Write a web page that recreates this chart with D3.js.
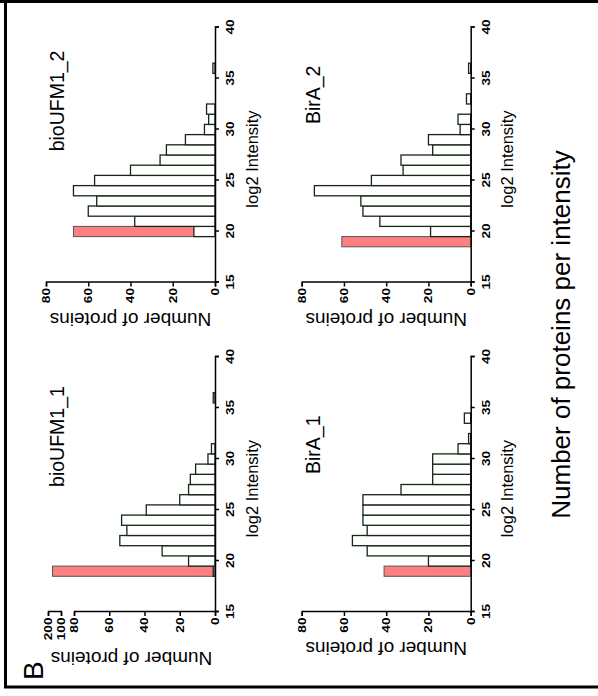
<!DOCTYPE html>
<html>
<head>
<meta charset="utf-8">
<script src="https://cdn.jsdelivr.net/npm/d3@7"></script>
<style>
  body { margin: 0; background: #fff; }
  text { font-family: "Liberation Sans", Arial, Helvetica, sans-serif; }
</style>
</head>
<body>
<script>
// dimensions de la figure (image finale)
var W = 598, H = 696

// données : intervalles log2 (centres) et nombre de protéines
const bins = [19, 20, 21, 22, 23, 24, 25, 26, 27, 28, 29, 30, 31, 32, 33, 34, 35, 36, 37];
const bioUFM1_1 = [1, 15, 30, 54, 50, 53, 39, 20, 15, 14, 11, 4, 2, 0, 0, 0, 0, 1, 0];
const bioUFM1_2 = [0, 10, 38, 60, 56, 67, 57, 40, 26, 23, 14, 5, 3, 4, 0, 0, 0, 1, 0];
const birA_1 = [0, 20, 49, 56, 49, 51, 51, 51, 33, 18, 18, 18, 6, 1, 0, 3, 0, 0, 0];
const birA_2 = [0, 19, 43, 51, 52, 74, 47, 32, 33, 18, 20, 5, 6, 0, 2, 0, 0, 1, 0];
// barre rose (valeurs imputées) : intervalle et hauteur
const pinkBins = [19, 20, 19, 19];
const pinkValues = [165, 67, 41, 61];
const titles = ["bioUFM1_1", "bioUFM1_2", "BirA_1", "BirA_2"];
const xTicks = [15, 20, 25, 30, 35, 40];
const yTicks = [0, 20, 40, 60, 80];
const yTicksHigh = [100, 200];

// mise en page des panneaux dans le repère non tourné (696 x 598)
var panels = [
  { name: titles[0], counts: bioUFM1_1, pb: pinkBins[0], pv: pinkValues[0], u0: 84, v0: 215, broken: true, tx: 32.2, lab: -40 },
  { name: titles[1], counts: bioUFM1_2, pb: pinkBins[1], pv: pinkValues[1], u0: 413.5, v0: 215, broken: false, tx: 32.8, lab: -30 },
  { name: titles[2], counts: birA_1, pb: pinkBins[2], pv: pinkValues[2], u0: 84, v0: 470.7, broken: false, tx: 31.4, lab: -30 },
  { name: titles[3], counts: birA_2, pb: pinkBins[3], pv: pinkValues[3], u0: 413.5, v0: 470.7, broken: false, tx: 33.4, lab: -30 }
]

var svg = d3.select("body").append("svg")
  .attr("width", W)
  .attr("height", H);

// cadre
svg.append("line").attr("x1", 0).attr("x2", W).attr("y1", 1.5).attr("y2", 1.5)
  .attr("stroke", "#000").attr("stroke-width", 3);
svg.append("line").attr("x1", 5.5).attr("x2", 5.5).attr("y1", 0).attr("y2", 688)
  .attr("stroke", "#000").attr("stroke-width", 3);
svg.append("line").attr("x1", 4).attr("x2", W).attr("y1", 687).attr("y2", 687)
  .attr("stroke", "#000").attr("stroke-width", 3);

// toute la figure est tournée de -90°
var fig = svg.append("g").attr("transform", "translate(0," + H + ") rotate(-90)");

fig.append("text")
  .attr("x", 16).attr("y", 43.3)
  .style("font-size", "28px")
  .text("B");

fig.append("text")
  .attr("x", 361.5).attr("y", 570)
  .attr("text-anchor", "middle")
  .style("font-size", "26px")
  .text("Number of proteins per intensity");

function tickStyle(sel) {
  sel.style("font-size", "10.5px").style("font-weight", "bold").attr("fill", "#000");
}

panels.forEach(function(p) {
  var g = fig.append("g");
  var x = d3.scaleLinear().domain([15, 40]).range([p.u0, p.u0 + 255]);
  var y, yLow, yHigh;
  if (p.broken) {
    y = d3.scaleLinear().domain([0, 80, 100, 200]).range([p.v0, p.v0 - 141, p.v0 - 154, p.v0 - 167]);
    yLow = d3.scaleLinear().domain([0, 80]).range([p.v0, p.v0 - 141]);
    yHigh = d3.scaleLinear().domain([100, 200]).range([p.v0 - 154, p.v0 - 167]);
  } else {
    y = d3.scaleLinear().domain([0, 80]).range([p.v0, p.v0 - 169]);
    yLow = y;
  }

  // barre rose d'abord, les barres blanches par-dessus
  g.append("rect")
    .attr("x", x(p.pb - 0.5))
    .attr("width", x(p.pb + 0.5) - x(p.pb - 0.5))
    .attr("y", y(p.pv))
    .attr("height", y(0) - y(p.pv))
    .attr("fill", "#ff8080")
    .attr("stroke", "#555")
    .attr("stroke-width", 1);

  g.selectAll(".bar")
    .data(bins.map(function(b, i) { return { b: b, c: p.counts[i] }; })
      .filter(function(d) { return !(d.b === p.pb && d.c === 0); }))
    .enter().append("rect")
    .attr("class", "bar")
    .attr("x", function(d) { return x(d.b - 0.5); })
    .attr("width", function(d) { return x(d.b + 0.5) - x(d.b - 0.5); })
    .attr("y", function(d) { return y(d.c); })
    .attr("height", function(d) { return y(0) - y(d.c); })
    .attr("fill", "#fff")
    .attr("stroke", "#142814")
    .attr("stroke-width", 1.3);

  // axe des intensités (log2)
  var ax = g.append("g")
    .attr("transform", "translate(0," + p.v0 + ")")
    .call(d3.axisBottom(x).tickValues(xTicks).tickSize(4).tickPadding(8));
  ax.selectAll("text")
    .attr("transform", "scale(1.3,1)")
    .attr("x", 0)
    .call(tickStyle);

  // axe des comptes (coupé pour bioUFM1_1)
  var ay = g.append("g")
    .attr("transform", "translate(" + p.u0 + ",0)")
    .call(d3.axisLeft(yLow).tickValues(yTicks).tickSize(4).tickPadding(2));
  ay.selectAll("text")
    .attr("transform", "scale(1.3,1)")
    .attr("x", -5.5 / 1.3)
    .call(tickStyle);
  if (p.broken) {
    var ay2 = g.append("g")
      .attr("transform", "translate(" + p.u0 + ",0)")
      .call(d3.axisLeft(yHigh).tickValues(yTicksHigh).tickSize(4).tickPadding(2));
    ay2.selectAll("text")
      .attr("transform", "scale(1.3,1)")
      .attr("x", -5.5 / 1.3)
      .call(tickStyle);
  }

  g.selectAll(".domain, .tick line").attr("stroke", "#000").attr("stroke-width", 1.5);

  // titres
  g.append("text")
    .attr("x", x(p.tx)).attr("y", p.v0 - 151)
    .attr("text-anchor", "middle")
    .style("font-size", "19.5px")
    .text(p.name);

  g.append("text")
    .attr("x", (x(15) + x(40)) / 2 - 4).attr("y", p.v0 + 42.5)
    .attr("text-anchor", "middle")
    .style("font-size", "16.5px")
    .text("log2 Intensity");

  var vMid = p.broken ? (p.v0 + p.v0 - 167) / 2 : (p.v0 + p.v0 - 169) / 2;
  g.append("text")
    .attr("transform", "translate(" + (p.u0 + p.lab) + "," + vMid + ") rotate(-90)")
    .attr("text-anchor", "middle")
    .style("font-size", "19px")
    .text("Number of proteins");
});
</script>
</body>
</html>
